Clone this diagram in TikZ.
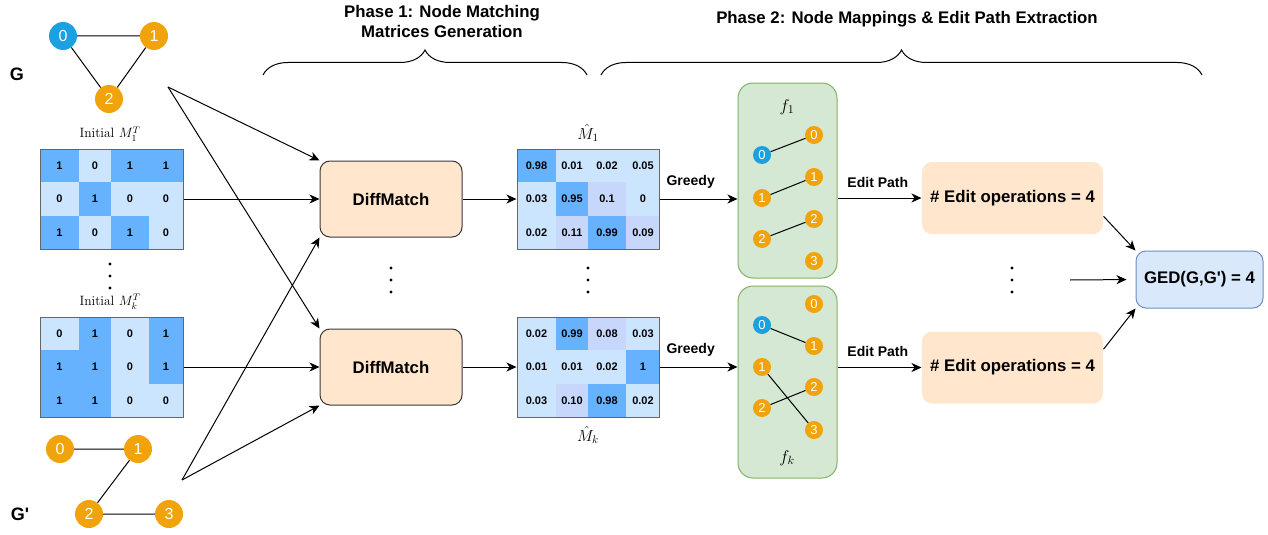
\RequirePackage{fix-cm}
\documentclass[tikz,border=0pt]{standalone}
\usepackage{amsmath}
\usepackage{fontspec}
\newfontfamily\arialfont{Liberation Sans}
\usetikzlibrary{arrows.meta,calc,positioning,decorations.pathreplacing}
\definecolor{nodeblue}{HTML}{1BA1E2}
\definecolor{nodeorange}{HTML}{F0A30A}
\definecolor{celldark}{HTML}{66B2FF}
\definecolor{celllight}{HTML}{CCE5FF}
\definecolor{cellmid}{HTML}{C7D7FC}
\definecolor{peach}{HTML}{FFE6CC}
\definecolor{mapgreen}{HTML}{D5E8D4}
\definecolor{mapborder}{HTML}{82B366}
\definecolor{gedfill}{HTML}{DAE8FC}
\definecolor{gedborder}{HTML}{6C8EBF}
\tikzset{box/.style={draw=black!78,line width=1pt,rounded corners=10pt,fill=peach,minimum width=142pt,minimum height=76pt,
    font=\arialfont\bfseries\fontsize{16.8}{20}\selectfont},
  ops/.style={box,draw=none,minimum width=181pt,minimum height=72pt},
  ged/.style={box,fill=gedfill,draw=gedborder,minimum width=127pt,minimum height=57pt},
  fmap/.style={draw=mapborder,line width=1pt,fill=mapgreen,rounded corners=15pt,minimum width=99pt},
  vtx/.style={circle,fill=nodeorange,text=white,inner sep=0pt,minimum size=28pt,font=\arialfont\fontsize{16}{19}\selectfont},
  svtx/.style={vtx,minimum size=18pt,font=\arialfont\fontsize{13}{15}\selectfont},
  mat/.style={draw=black!60,line width=1pt,minimum width=143pt,minimum height=100pt,inner sep=0pt},
  val/.style={font=\arialfont\bfseries\fontsize{11}{13}\selectfont,inner sep=0pt},
  lbl/.style={font=\arialfont\bfseries\fontsize{14}{16}\selectfont,inner sep=0pt},
  title/.style={align=center,font=\arialfont\bfseries\fontsize{16.8}{20}\selectfont},
  edge/.style={line width=1pt},
  arr/.style={-{Stealth[length=10pt,width=9pt,inset=3pt]},line width=1pt}}
% one row of a matrix: name, left x, top y, list of value/shade
\newcommand{\matrow}[4]{%
  \foreach \v/\s [count=\c from 0] in {#4}{
    \pgfmathsetmacro{\xa}{{0,39,71,109}[\c]}
    \pgfmathsetmacro{\xb}{{39,71,109,143}[\c]}
    \fill[\s] (#2+\xa,#3) rectangle (#2+\xb,#3+33.33);
    \node[val] (#1-\c) at ({#2+(\xa+\xb)/2},#3+16.67) {\v};
  }}

\begin{document}
\begin{tikzpicture}[x=1pt,y=-1pt]
\useasboundingbox (0,0) rectangle (1268,535);

% graphs G and G'
\node[font=\arialfont\bfseries\fontsize{18}{21}\selectfont] (gname) at (17,74) {G};
\node[vtx,fill=nodeblue] (g0) at (63,36) {0};
\node[vtx] (g1) at (154,36) {1};
\node[vtx] (g2) at (109,99) {2};
\draw[edge] (g0) -- (g1) (g0) -- (g2) (g1) -- (g2);
\node[font=\arialfont\bfseries\fontsize{18}{21}\selectfont] (hname) at (20,514) {G'};
\node[vtx] (h0) at (60,449) {0};
\node[vtx] (h1) at (138,449) {1};
\node[vtx] (h2) at (89,514) {2};
\node[vtx] (h3) at (169,514) {3};
\draw[edge] (h0) -- (h1) (h1) -- (h2) (h2) -- (h3);

% initial matrices
\matrow{pa}{40}{149}{1/celldark,0/celllight,1/celldark,1/celldark}
\matrow{pb}{40}{182.33}{0/celllight,1/celldark,0/celllight,0/celllight}
\matrow{pc}{40}{215.67}{1/celldark,0/celllight,1/celldark,0/celllight}
\node[mat] (ini1) at (111.5,199) {};
\node[font=\fontsize{13.5}{16}\selectfont] (ini1lab) at (110,134) {Initial $M_1^T$};
\matrow{qa}{40}{317}{0/celllight,1/celldark,0/celllight,1/celldark}
\matrow{qb}{40}{350.33}{1/celldark,1/celldark,0/celllight,1/celldark}
\matrow{qc}{40}{383.67}{1/celldark,1/celldark,0/celllight,0/celllight}
\node[mat] (inik) at (111.5,367) {};
\node[font=\fontsize{13.5}{16}\selectfont] (iniklab) at (110,302) {Initial $M_k^T$};

% DiffMatch
\node[box] (dm1) at (391,199) {DiffMatch};
\node[box] (dm2) at (391,367) {DiffMatch};
\coordinate (gout) at (168,87);
\coordinate (hout) at (182,480);
\draw[arr] (gout) -- (dm1.north west);
\draw[arr] (gout) -- (dm2.north west);
\draw[arr] (hout) -- (dm1.south west);
\draw[arr] (hout) -- (dm2.south west);
\draw[arr] (ini1.east) -- (dm1.west);
\draw[arr] (inik.east) -- (dm2.west);

% predicted matrices
\matrow{ra}{517}{149}{0.98/celldark,0.01/celllight,0.02/celllight,0.05/celllight}
\matrow{rb}{517}{182.33}{0.03/celllight,0.95/celldark,0.1/cellmid,0/celllight}
\matrow{rc}{517}{215.67}{0.02/celllight,0.11/cellmid,0.99/celldark,0.09/cellmid}
\node[mat,minimum width=142pt] (hat1) at (588,199) {};
\node[font=\fontsize{16}{19}\selectfont] (hat1lab) at (588,133) {$\hat{M}_1$};
\matrow{sa}{517}{317}{0.02/celllight,0.99/celldark,0.08/cellmid,0.03/celllight}
\matrow{sb}{517}{350.33}{0.01/celllight,0.01/celllight,0.02/celllight,1/celldark}
\matrow{sc}{517}{383.67}{0.03/celllight,0.10/cellmid,0.98/celldark,0.02/celllight}
\node[mat,minimum width=142pt] (hatk) at (588,367) {};
\node[font=\fontsize{16}{19}\selectfont] (hatklab) at (588,435) {$\hat{M}_k$};
\draw[arr] (dm1.east) -- (hat1.west);
\draw[arr] (dm2.east) -- (hatk.west);

% vertical dots
\foreach \x/\y in {110/264,391/268,588/268,1012/268}
  \foreach \d in {0,12,24} \fill (\x,\y+\d) circle (1.6pt);

% node mappings
\node[fmap,minimum height=195pt] (f1) at (787.5,180.5) {};
\node[font=\fontsize{17}{20}\selectfont] (f1lab) at (787,107) {$f_1$};
\node[svtx,fill=nodeblue] (a0) at (762,155) {0};
\node[svtx] (a1) at (762,198) {1};
\node[svtx] (a2) at (762,239) {2};
\node[svtx] (b0) at (814,135) {0};
\node[svtx] (b1) at (814,177) {1};
\node[svtx] (b2) at (814,219) {2};
\node[svtx] (b3) at (814,261) {3};
\draw[edge] (a0) -- (b0) (a1) -- (b1) (a2) -- (b2);
\node[fmap,minimum height=192pt] (fk) at (787.5,382) {};
\node[font=\fontsize{17}{20}\selectfont] (fklab) at (787,458) {$f_k$};
\node[svtx,fill=nodeblue] (c0) at (762,325) {0};
\node[svtx] (c1) at (762,367) {1};
\node[svtx] (c2) at (762,408) {2};
\node[svtx] (d0) at (814,304) {0};
\node[svtx] (d1) at (814,346) {1};
\node[svtx] (d2) at (814,387) {2};
\node[svtx] (d3) at (814,430) {3};
\draw[edge] (c0) -- (d1) (c1) -- (d3) (c2) -- (d2);
\draw[arr] (hat1.east) -- node[lbl,pos=0.4,above=10pt] (gr1) {Greedy} (hat1.east -| f1.west);
\draw[arr] (hatk.east) -- node[lbl,pos=0.4,above=10pt] (grk) {Greedy} (hatk.east -| fk.west);

% edit paths
\node[ops] (op1) at (1012.5,198) {\# Edit operations = 4};
\node[ops] (op2) at (1012.5,367.5) {\# Edit operations = 4};
\draw[arr] (op1.west -| f1.east) -- node[lbl,pos=0.48,above=10pt] (ep1) {Edit Path} (op1.west);
\draw[arr] (op2.west -| fk.east) -- node[lbl,pos=0.48,above=10pt] (ep2) {Edit Path} (op2.west);
\node[ged] (ged) at (1199.5,279.5) {GED(G,G') = 4};
\coordinate (mid) at (1070,280);
\draw[arr] ($(op1.east)!0.5!(op1.south east)$) -- (ged.north west);
\draw[arr] ($(op2.east)!0.5!(op2.north east)$) -- (ged.south west);
\draw[arr,shorten >=9pt] (mid) -- (ged.west);

% phases
\node[title] (ph1) at (442,21) {Phase 1: Node Matching\\Matrices Generation};
\draw[line width=1pt,decorate,decoration={brace,amplitude=25pt}] (263,75) -- (587,75);
\node[title] (ph2) at (907,19) {Phase 2: Node Mappings \& Edit Path Extraction};
\draw[line width=1pt,decorate,decoration={brace,amplitude=25pt}] (601,75) -- (1202,75);
\end{tikzpicture}
\end{document}
